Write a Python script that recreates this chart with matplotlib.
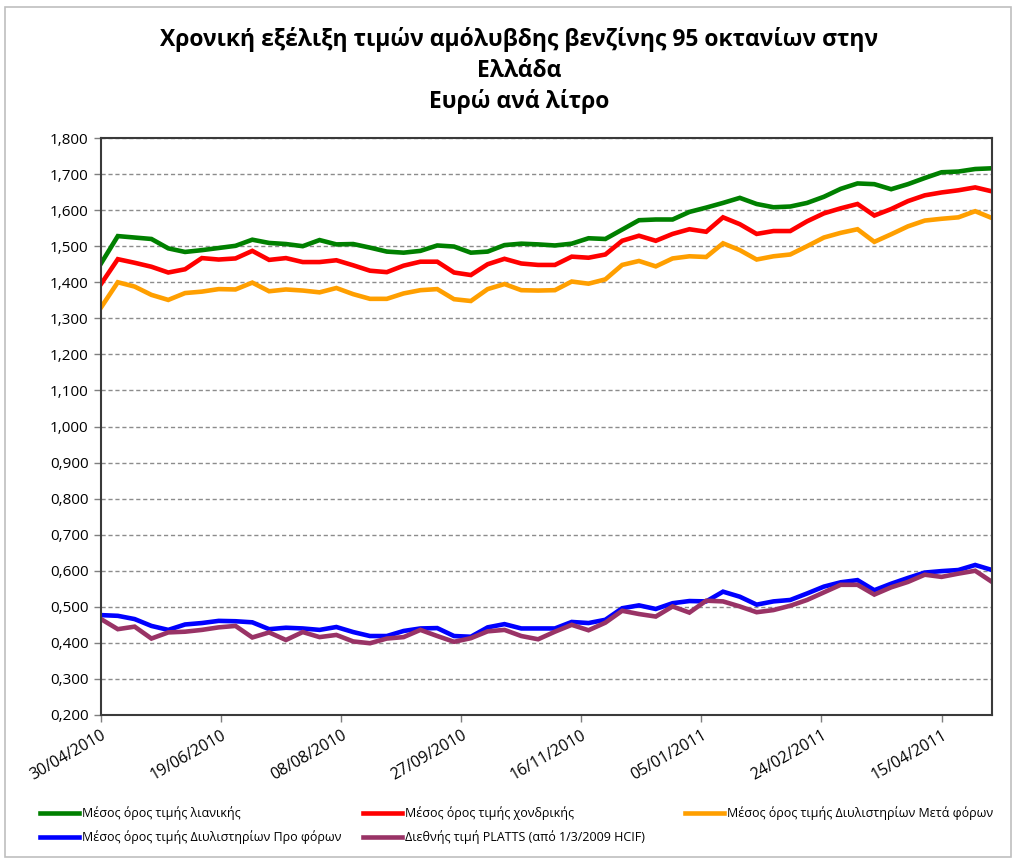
import matplotlib
matplotlib.use('Agg')
import matplotlib.pyplot as plt
import matplotlib.dates as mdates
from matplotlib.lines import Line2D
from matplotlib.patches import Rectangle
import pandas as pd

plt.rcParams['font.family'] = ['Open Sans', 'DejaVu Sans']

# weekly observations
dates = pd.date_range('2010-04-30', periods=54, freq='7D')
tick_dates = pd.date_range('2010-04-30', periods=8, freq='50D')

retail = [1.452, 1.528, 1.524, 1.520, 1.494, 1.484, 1.489, 1.495, 1.501, 1.518, 1.509, 1.506, 1.500, 1.517,
          1.505, 1.506, 1.496, 1.485, 1.482, 1.487, 1.502, 1.499, 1.482, 1.485, 1.503, 1.507, 1.505, 1.502,
          1.507, 1.522, 1.520, 1.546, 1.572, 1.574, 1.574, 1.595, 1.607, 1.620, 1.634, 1.617, 1.608, 1.610,
          1.620, 1.637, 1.659, 1.674, 1.672, 1.658, 1.672, 1.689, 1.705, 1.707, 1.714, 1.716]
wholesale = [1.395, 1.464, 1.454, 1.443, 1.427, 1.436, 1.467, 1.463, 1.466, 1.487, 1.462, 1.467, 1.456, 1.456,
             1.461, 1.447, 1.432, 1.428, 1.446, 1.457, 1.457, 1.427, 1.420, 1.450, 1.465, 1.452, 1.448, 1.448,
             1.471, 1.468, 1.477, 1.515, 1.529, 1.515, 1.534, 1.547, 1.540, 1.580, 1.561, 1.534, 1.542, 1.542,
             1.569, 1.591, 1.605, 1.617, 1.585, 1.603, 1.625, 1.641, 1.649, 1.655, 1.663, 1.652]
refinery_after_tax = [1.330, 1.400, 1.388, 1.365, 1.351, 1.370, 1.374, 1.381, 1.380, 1.399, 1.375, 1.380, 1.377,
                      1.372, 1.384, 1.367, 1.354, 1.354, 1.369, 1.378, 1.381, 1.353, 1.348, 1.381, 1.395, 1.378,
                      1.377, 1.378, 1.402, 1.396, 1.408, 1.448, 1.459, 1.444, 1.466, 1.472, 1.470, 1.508, 1.489,
                      1.463, 1.472, 1.477, 1.500, 1.524, 1.537, 1.547, 1.512, 1.533, 1.555, 1.571, 1.576, 1.580,
                      1.597, 1.578]
refinery_pre_tax = [0.477, 0.475, 0.466, 0.447, 0.436, 0.451, 0.455, 0.461, 0.460, 0.457, 0.438, 0.442, 0.440,
                    0.436, 0.444, 0.430, 0.419, 0.419, 0.433, 0.440, 0.441, 0.419, 0.417, 0.443, 0.452, 0.440,
                    0.440, 0.440, 0.458, 0.455, 0.464, 0.496, 0.504, 0.494, 0.510, 0.516, 0.515, 0.542, 0.528,
                    0.506, 0.515, 0.519, 0.537, 0.556, 0.568, 0.574, 0.546, 0.564, 0.580, 0.595, 0.599, 0.602,
                    0.616, 0.602]
platts = [0.466, 0.438, 0.445, 0.412, 0.429, 0.431, 0.436, 0.443, 0.447, 0.415, 0.429, 0.408, 0.430, 0.416,
          0.422, 0.404, 0.399, 0.412, 0.416, 0.436, 0.419, 0.403, 0.413, 0.432, 0.436, 0.419, 0.410, 0.431,
          0.450, 0.435, 0.456, 0.489, 0.480, 0.473, 0.501, 0.484, 0.517, 0.515, 0.501, 0.485, 0.491, 0.503,
          0.519, 0.540, 0.561, 0.561, 0.534, 0.554, 0.569, 0.589, 0.583, 0.592, 0.600, 0.569]

labels = ['Μέσος όρος τιμής λιανικής',
          'Μέσος όρος τιμής χονδρικής',
          'Μέσος όρος τιμής Διυλιστηρίων Μετά φόρων',
          'Μέσος όρος τιμής Διυλιστηρίων Προ φόρων',
          'Διεθνής τιμή PLATTS (από 1/3/2009 HCIF)']
colors = ['#008000', '#FF0000', '#FF9F00', '#0000FF', '#993366']
series = [retail, wholesale, refinery_after_tax, refinery_pre_tax, platts]

W, H = 1018, 863
fig = plt.figure(figsize=(W / 100, H / 100), dpi=100)
ax = fig.add_axes([101 / W, 1 - 715 / H, (992 - 101) / W, (715 - 138) / H])

for vals, c in zip(series, colors):
    ax.plot(dates, vals, color=c, linewidth=3.3, solid_joinstyle='miter')

ax.set_ylim(0.2, 1.8)
ax.set_yticks([0.2 + 0.1 * k for k in range(17)])
ax.set_yticklabels([f'{0.2 + 0.1 * k:.3f}'.replace('.', ',') for k in range(17)], fontsize=11)
ax.set_xlim(dates[0], dates[-1])
ax.set_xticks(tick_dates)
ax.xaxis.set_major_formatter(mdates.DateFormatter('%d/%m/%Y'))
for lab in ax.get_xticklabels():
    lab.set_rotation(30)
    lab.set_ha('right')
    lab.set_va('top')
    lab.set_rotation_mode('anchor')
    lab.set_fontsize(11.5)

ax.grid(axis='y', color='#8c8c8c', linestyle=(0, (3, 2)), linewidth=1)
ax.set_axisbelow(True)
ax.tick_params(axis='both', direction='out', length=5, width=1, color='#7f7f7f', pad=4)
for s in ax.spines.values():
    s.set_color('#3a3a3a')
    s.set_linewidth(1.5)

# title
title_lines = ['Χρονική εξέλιξη τιμών αμόλυβδης βενζίνης 95 οκτανίων στην', 'Ελλάδα', 'Ευρώ ανά λίτρο']
for k, t in enumerate(title_lines):
    fig.text(519 / W, 1 - (40 + 31 * k) / H, t, ha='center', va='center', fontsize=16.5, fontweight='bold')

# legend laid out like the original (3 + 2 rows)
legend_pos = [(40, 813), (363, 813), (685, 813), (40, 837), (363, 837)]
for (lx, ly), lab, c in zip(legend_pos, labels, colors):
    fig.add_artist(Line2D([lx / W, (lx + 39) / W], [1 - ly / H, 1 - ly / H], color=c, linewidth=3.3,
                          transform=fig.transFigure))
    fig.text((lx + 42) / W, 1 - ly / H, lab, ha='left', va='center', fontsize=9)

# chart area border
fig.add_artist(Rectangle((5 / W, 6 / H), (W - 12) / W, (H - 13) / H, transform=fig.transFigure,
                         fill=False, edgecolor='#bfbfbf', linewidth=1.2))

fig.savefig('out.png', dpi=100)
